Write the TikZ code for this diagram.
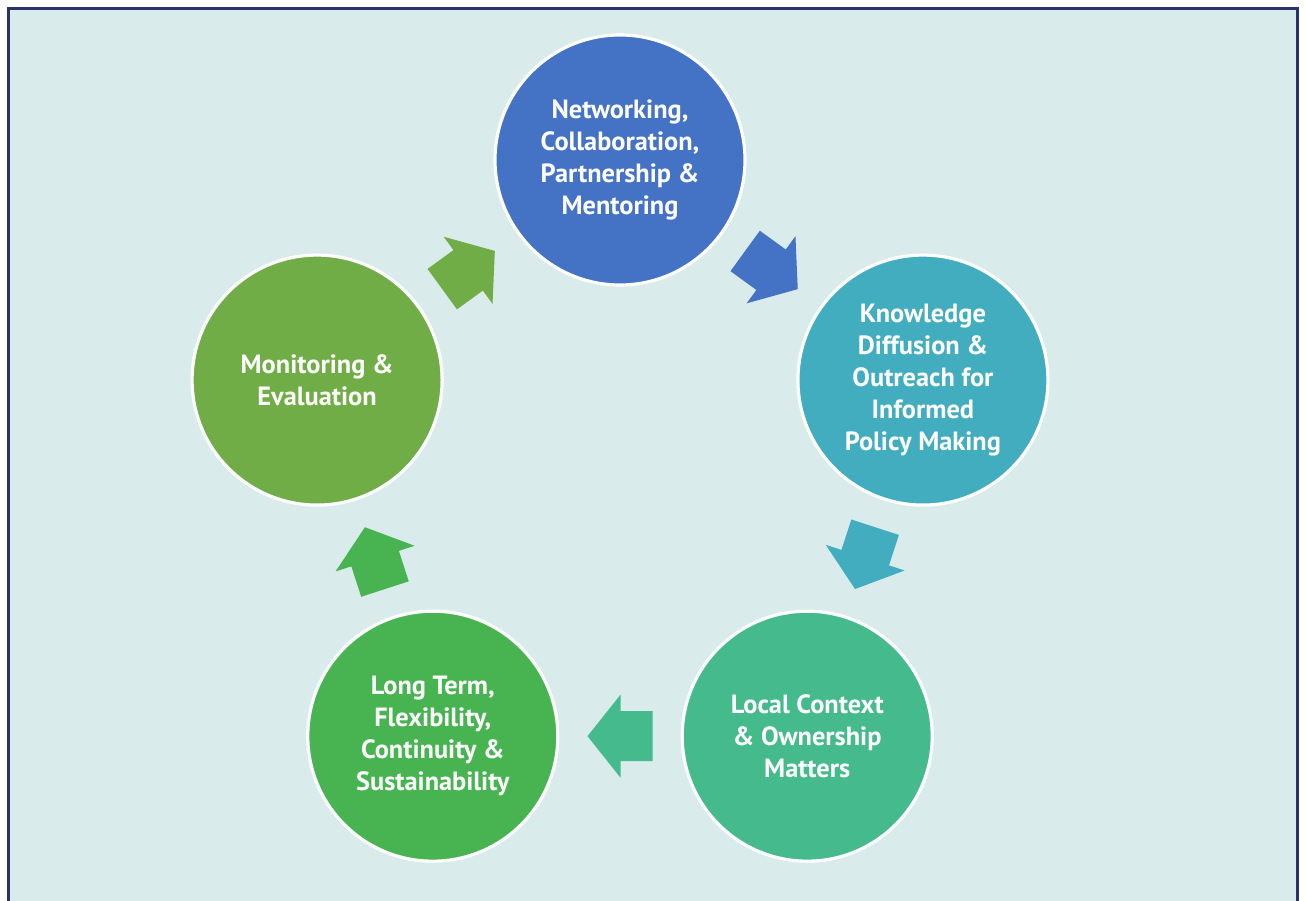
\documentclass[tikz,border=0pt]{standalone}
\usepackage{fontspec}
\setmainfont{PT Sans}
\usepackage{xcolor}
\usepackage{tikz}
\usetikzlibrary{calc,positioning}
\definecolor{panel}{HTML}{D9ECEB}
\definecolor{frame}{HTML}{28336A}
\definecolor{cblue}{HTML}{4472C4}
\definecolor{cteal}{HTML}{43ADC0}
\definecolor{csea}{HTML}{45BB8D}
\definecolor{cgreen}{HTML}{47B451}
\definecolor{colive}{HTML}{70AD47}
\tikzset{
  stage/.style={circle, fill=#1, draw=white, line width=1.8pt, minimum size=5cm,
    inner sep=0pt, align=center, text=white, font=\fontsize{15}{18.2}\selectfont\bfseries},
  % block arrow pointing along +x, centred on the origin
  flow/.pic={
    \fill[pic actions] (-0.65,0.5) -- (-0.01,0.5) -- (-0.01,0.83) -- (0.65,0)
      -- (-0.01,-0.83) -- (-0.01,-0.5) -- (-0.65,-0.5) -- cycle;
  },
}

\begin{document}
\begin{tikzpicture}
  \def\R{6.37}
  \useasboundingbox (0,0) rectangle (26.1,-18.02);
  \clip (0,0) rectangle (26.1,-18.02);
  \fill[white] (0,0) rectangle (26.1,-18.02);
  \draw[frame, fill=panel, line width=1.4pt] (0.17,-0.17) rectangle (25.95,-18.6);

  \coordinate (C) at (12.4,-9.57);
  \node[stage=cblue]  (net) at ($(C)+(90:\R)$)   {Networking,\\Collaboration,\\Partnership \&\\Mentoring};
  \node[stage=cteal]  (know) at ($(C)+(18:\R)$)  {Knowledge\\Diffusion \&\\Outreach for\\Informed\\Policy Making};
  \node[stage=csea]   (local) at ($(C)+(-54:\R)$) {Local Context\\\& Ownership\\Matters};
  \node[stage=cgreen] (long) at ($(C)+(-126:\R)$) {Long Term,\\Flexibility,\\Continuity \&\\Sustainability};
  \node[stage=colive] (mon) at ($(C)+(162:\R)$)  {Monitoring \&\\Evaluation};

  % block arrows halfway between neighbouring stages
  \foreach \a/\b/\ang/\col in {net/know/-36/cblue, know/local/-108/cteal,
      local/long/180/csea, long/mon/108/cgreen, mon/net/36/colive}
    \pic[fill=\col, rotate=\ang] at ($(\a)!0.5!(\b)$) {flow};
\end{tikzpicture}
\end{document}
